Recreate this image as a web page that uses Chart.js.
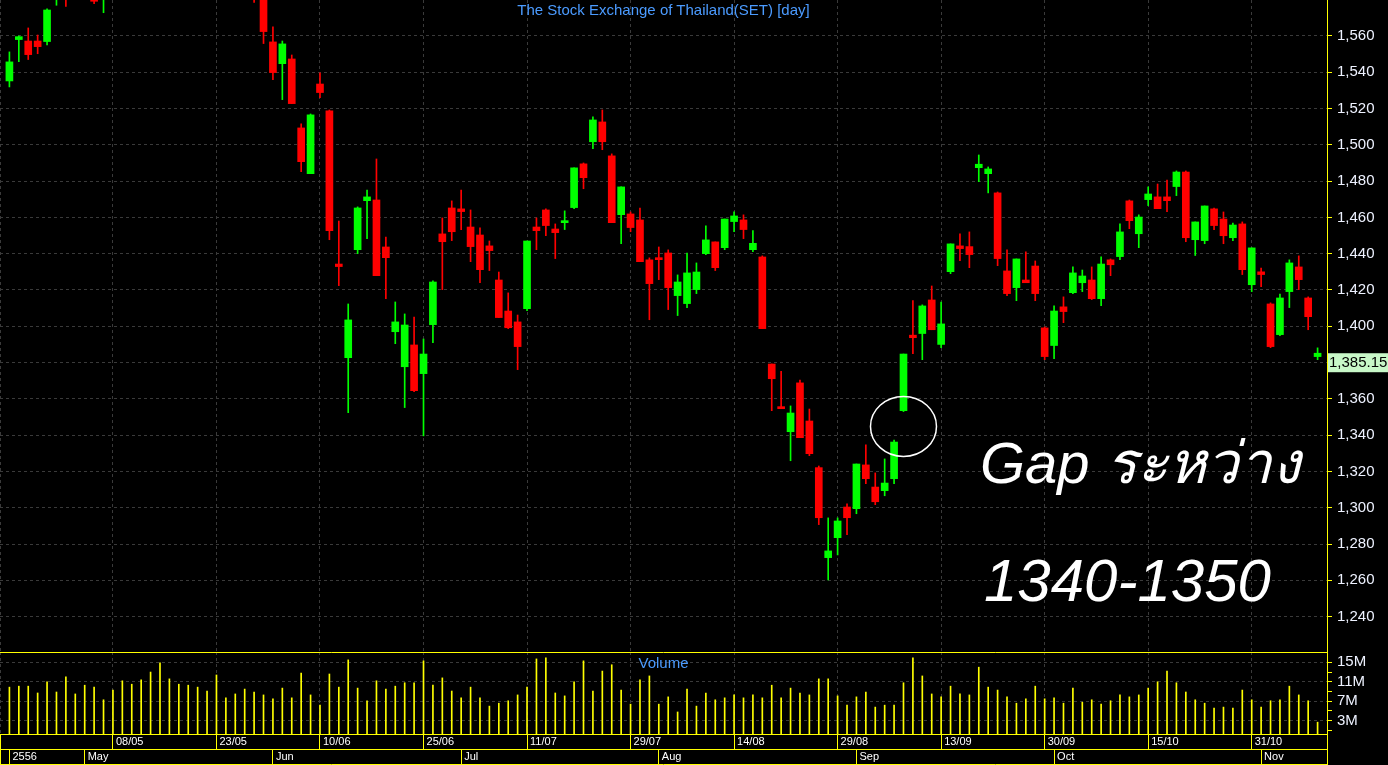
<!DOCTYPE html>
<html>
<head>
<meta charset="utf-8">
<title>SET [day]</title>
<script src="https://cdn.jsdelivr.net/npm/chart.js"></script>
<style>
  html, body { margin: 0; padding: 0; background: #000; overflow: hidden; }
  #wrap { position: relative; width: 1388px; height: 765px; background: #000; }
  #priceChart { position: absolute; left: 0; top: 0; }
  #volChart { position: absolute; left: 0; top: 651px; }
  .lbl { position: absolute; font-family: "Liberation Sans", Arial, sans-serif; white-space: nowrap; }
  #title { left: 0; width: 1327px; top: 2px; text-align: center; font-size: 15px; line-height: 15px; color: #4b9bff; }
  #volTitle { left: 0; width: 1327px; top: 655px; text-align: center; font-size: 15px; line-height: 15px; color: #4b9bff; }
  #gap1 { left: 980px; top: 434px; font-size: 58px; line-height: 58px; font-style: italic; color: #fff; }
  #gap2 { left: 984px; top: 551px; font-size: 60px; line-height: 60px; font-style: italic; color: #fff; }
</style>
</head>
<body>
<div id="wrap">
  <canvas id="priceChart" width="1388" height="652"></canvas>
  <canvas id="volChart" width="1388" height="115"></canvas>
  <div class="lbl" id="title">The Stock Exchange of Thailand(SET) [day]</div>
  <div class="lbl" id="volTitle">Volume</div>
  <div class="lbl" id="gap1">Gap ระหว่าง</div>
  <div class="lbl" id="gap2">1340-1350</div>
</div>
<script>
// SET index, daily candles (bar 0 .. 139)
// bars 5-27 run above the top of the view, only their wicks/bottoms are visible
const opens = [1535.2, 1558.0, 1557.2, 1557.2, 1556.9, 1585, 1605, 1592, 1610, 1596,
    1580, 1598, 1612, 1621, 1616, 1630, 1640, 1627, 1612, 1620,
    1604, 1610, 1598, 1588, 1596, 1590, 1597, 1588, 1556.7, 1544.7,
    1547.3, 1509.3, 1484.1, 1533.5, 1518.7, 1434.3, 1382.7, 1442.2, 1469.2, 1469.6,
    1443.7, 1397.0, 1377.7, 1389.7, 1373.9, 1400.9, 1450.9, 1465.2, 1464.7, 1454.7,
    1450.3, 1444.3, 1425.5, 1408.4, 1402.4, 1409.7, 1454.7, 1464.1, 1453.6, 1457.1,
    1465.4, 1489.5, 1501.7, 1512.6, 1493.9, 1461.5, 1461.9, 1458.6, 1436.6, 1437.8,
    1440.4, 1416.9, 1412.5, 1420.2, 1440.0, 1446.5, 1443.3, 1457.7, 1458.6, 1442.2,
    1438.2, 1379.2, 1355.7, 1341.9, 1368.8, 1347.8, 1322.1, 1272.5, 1283.5, 1300.4,
    1299.5, 1323.6, 1311.4, 1309.4, 1316.0, 1353.5, 1395.1, 1396.0, 1414.5, 1390.0,
    1430.1, 1444.3, 1443.9, 1487.4, 1484.1, 1473.5, 1430.5, 1421.3, 1425.5, 1433.2,
    1399.1, 1389.4, 1410.7, 1418.5, 1424.0, 1425.5, 1415.2, 1436.6, 1438.4, 1469.1,
    1451.0, 1469.8, 1471.3, 1471.3, 1477.0, 1485.0, 1447.7, 1447.2, 1464.7, 1459.1,
    1448.8, 1456.4, 1422.9, 1430.0, 1412.3, 1395.4, 1419.1, 1432.7, 1415.6, 1383.3];
const highs = [1551.2, 1560.0, 1564.4, 1560.5, 1574.9, 1602, 1610, 1612, 1614, 1600,
    1600, 1615, 1625, 1627, 1633, 1643, 1649, 1632, 1626, 1624,
    1616, 1614, 1603, 1600, 1599, 1601, 1600, 1592, 1565.0, 1557.2,
    1549.5, 1511.5, 1517.0, 1539.6, 1519.2, 1458.0, 1412.3, 1465.8, 1475.1, 1492.2,
    1449.2, 1413.4, 1406.8, 1405.1, 1393.0, 1425.0, 1459.7, 1469.1, 1475.1, 1464.1,
    1454.2, 1447.0, 1429.9, 1418.4, 1406.2, 1447.0, 1459.7, 1464.7, 1456.4, 1463.6,
    1487.3, 1490.0, 1515.4, 1519.2, 1495.0, 1476.8, 1463.0, 1465.2, 1437.7, 1443.7,
    1442.1, 1428.3, 1440.4, 1434.9, 1455.3, 1446.5, 1459.1, 1463.0, 1461.4, 1452.7,
    1438.8, 1379.2, 1375.2, 1356.1, 1370.4, 1354.4, 1323.0, 1294.4, 1294.4, 1302.1,
    1324.1, 1334.6, 1319.2, 1326.9, 1337.3, 1384.7, 1414.1, 1411.8, 1422.2, 1413.4,
    1445.4, 1450.9, 1452.0, 1494.4, 1487.8, 1474.0, 1442.1, 1437.1, 1441.0, 1436.0,
    1399.6, 1411.2, 1416.2, 1432.7, 1431.0, 1432.7, 1438.2, 1437.1, 1456.4, 1469.6,
    1461.4, 1476.8, 1478.4, 1480.6, 1485.6, 1485.6, 1457.5, 1466.3, 1465.2, 1463.0,
    1456.9, 1457.5, 1443.2, 1432.1, 1412.9, 1417.8, 1436.6, 1438.8, 1416.2, 1388.1];
const lows = [1531.9, 1545.8, 1547.0, 1550.2, 1555.0, 1576.9, 1576.3, 1585, 1590, 1577.8,
    1572.8, 1594, 1606, 1610, 1613, 1626, 1622, 1606, 1604, 1598,
    1596, 1592, 1583, 1584, 1585, 1586, 1578.5, 1555.8, 1535.9, 1524.9,
    1522.7, 1485.2, 1484.1, 1526.0, 1447.7, 1422.4, 1352.4, 1440.0, 1448.3, 1427.9,
    1415.2, 1390.4, 1355.2, 1364.0, 1339.6, 1391.0, 1420.2, 1447.2, 1453.2, 1435.6,
    1424.0, 1430.7, 1404.8, 1398.7, 1376.1, 1408.6, 1442.2, 1449.9, 1437.3, 1453.3,
    1464.8, 1475.8, 1497.9, 1497.3, 1457.1, 1445.5, 1452.1, 1435.6, 1403.6, 1425.7,
    1409.2, 1405.9, 1410.3, 1418.0, 1439.5, 1430.7, 1442.2, 1452.1, 1448.3, 1441.1,
    1398.7, 1353.5, 1354.6, 1325.9, 1338.6, 1328.7, 1290.7, 1260.2, 1274.0, 1285.2,
    1296.7, 1313.3, 1301.7, 1306.6, 1313.3, 1353.0, 1384.9, 1381.6, 1398.1, 1388.2,
    1429.0, 1436.2, 1432.3, 1479.7, 1473.5, 1433.4, 1416.9, 1414.1, 1424.0, 1414.1,
    1381.6, 1382.2, 1402.0, 1418.0, 1419.1, 1414.7, 1411.4, 1427.9, 1436.7, 1453.8,
    1443.3, 1466.5, 1464.8, 1463.2, 1472.0, 1446.6, 1439.0, 1445.5, 1453.3, 1445.5,
    1447.2, 1428.5, 1419.1, 1421.8, 1388.2, 1394.8, 1410.3, 1420.2, 1398.1, 1381.6];
const closes = [1545.7, 1559.6, 1549.7, 1554.1, 1574.3, 1598, 1590, 1608, 1596, 1579.1,
    1597, 1612, 1621, 1615, 1630, 1638, 1628, 1612, 1620, 1604,
    1611, 1598, 1588, 1596, 1590, 1597, 1588, 1562.4, 1539.8, 1555.6,
    1522.7, 1490.7, 1516.5, 1528.8, 1452.7, 1432.9, 1403.5, 1465.2, 1471.3, 1427.9,
    1437.8, 1402.4, 1400.7, 1364.5, 1384.7, 1424.4, 1446.6, 1452.1, 1463.2, 1443.9,
    1431.2, 1441.7, 1404.8, 1399.2, 1388.8, 1447.0, 1452.7, 1455.5, 1451.6, 1458.0,
    1487.3, 1481.9, 1513.7, 1501.7, 1457.1, 1476.8, 1454.4, 1435.6, 1423.5, 1436.7,
    1421.3, 1424.4, 1429.4, 1429.9, 1447.6, 1432.3, 1459.1, 1460.8, 1453.3, 1445.7,
    1398.7, 1371.1, 1354.6, 1352.2, 1338.6, 1329.8, 1294.5, 1276.2, 1292.7, 1294.5,
    1324.1, 1316.0, 1303.3, 1313.6, 1336.2, 1384.7, 1393.7, 1411.2, 1398.1, 1401.3,
    1445.4, 1442.8, 1439.5, 1489.3, 1486.7, 1437.3, 1418.0, 1437.1, 1424.0, 1418.0,
    1383.3, 1408.4, 1408.1, 1429.4, 1427.7, 1415.2, 1434.3, 1433.9, 1452.0, 1458.2,
    1460.2, 1472.9, 1464.8, 1469.2, 1485.0, 1448.8, 1457.5, 1466.3, 1455.5, 1449.9,
    1455.8, 1431.2, 1443.2, 1428.5, 1388.8, 1415.6, 1434.9, 1425.7, 1405.3, 1385.15];
// volume in millions of shares
const volumes = [9.9, 10.1, 10.1, 8.7, 11.0, 8.9, 12.0, 8.5, 10.3, 9.9,
    7.3, 9.3, 11.2, 10.5, 11.4, 13.0, 14.9, 11.6, 10.5, 10.3,
    9.9, 9.1, 12.4, 7.7, 8.5, 9.5, 8.9, 8.3, 7.5, 9.7,
    7.7, 12.8, 8.3, 6.2, 12.6, 9.9, 15.5, 9.7, 7.1, 11.2,
    9.5, 10.1, 10.8, 10.8, 15.3, 10.3, 11.8, 9.1, 7.7, 9.9,
    7.7, 6.0, 6.6, 7.1, 8.3, 9.9, 15.7, 15.9, 8.7, 8.1,
    11.0, 15.3, 9.1, 13.2, 14.5, 9.3, 6.4, 11.4, 12.2, 6.4,
    7.9, 4.8, 9.5, 6.0, 8.7, 7.3, 7.7, 8.3, 7.7, 8.3,
    7.7, 10.3, 7.7, 9.7, 8.7, 8.3, 11.6, 11.6, 8.1, 6.2,
    7.9, 8.9, 5.8, 6.2, 6.2, 10.8, 15.9, 12.2, 8.5, 7.9,
    10.1, 8.5, 8.3, 14.0, 9.9, 9.3, 7.9, 6.6, 7.5, 10.1,
    7.5, 7.7, 6.6, 9.7, 6.8, 7.3, 6.4, 7.1, 8.3, 7.9,
    8.3, 9.7, 11.0, 13.2, 10.8, 8.9, 7.3, 6.6, 5.6, 5.8,
    5.6, 9.3, 7.3, 5.8, 7.1, 7.3, 10.1, 8.3, 7.1, 2.7];

const priceTicks = [1240, 1260, 1280, 1300, 1320, 1340, 1360, 1380, 1400, 1420,
    1440, 1460, 1480, 1500, 1520, 1540, 1560];
const volTicks = [1, 3, 5, 7, 9, 11, 13, 15];
const volLabelTicks = [3, 7, 11, 15];
const dateTicks = [11, 22, 33, 44, 55, 66, 77, 88, 99, 110, 121, 132];
const dateLabels = ['08/05', '23/05', '10/06', '25/06', '11/07', '29/07', '14/08', '29/08', '13/09', '30/09', '15/10', '31/10'];
const monthTicks = [0, 8, 28, 48, 69, 90, 111, 133];
const monthLabels = ['2556', 'May', 'Jun', 'Jul', 'Aug', 'Sep', 'Oct', 'Nov'];
const lastClose = closes[closes.length - 1];

const UP = '#00ff00';
const DOWN = '#ff0000';
const YEL = '#ffff00';
const GRID = '#3a3a3a';
const TXT = '#eef2ff';
const FONT = '"Liberation Sans", Arial, sans-serif';

const idx = closes.map((c, i) => i);
const candleColors = idx.map(i => closes[i] >= opens[i] ? UP : DOWN);

// shared helpers for scale sizing
function noPad(s) { s.paddingTop = 0; s.paddingBottom = 0; s.paddingLeft = 0; s.paddingRight = 0; }
function rightAxis(s) { s.width = 61; noPad(s); }
function rowAxis(s) { s.height = 15; noPad(s); }
function tickList(list) { return s => { s.ticks = list.map(v => ({value: v})); }; }

// gap circle and last-price box on the price chart
const priceDecor = {
    id: 'priceDecor',
    afterDraw(chart) {
        const c = chart.ctx, xs = chart.scales.x, ys = chart.scales.y;
        c.save();
        c.strokeStyle = '#ffffff';
        c.lineWidth = 1.5;
        c.beginPath();
        c.ellipse(xs.getPixelForValue(95), ys.getPixelForValue(1344.8), 33, 30, 0, 0, Math.PI * 2);
        c.stroke();
        const py = ys.getPixelForValue(lastClose);
        c.fillStyle = '#c8f8c8';
        c.fillRect(chart.chartArea.right + 1, py, 61, 19);
        c.fillStyle = '#000';
        c.font = '15px ' + FONT;
        c.textBaseline = 'middle';
        c.fillText(lastClose.toLocaleString('en-US', {minimumFractionDigits: 2}), chart.chartArea.right + 2, py + 10);
        c.restore();
    }
};

var ctx1 = document.getElementById('priceChart');
var priceChart = new Chart(ctx1, {
    type: 'bar',
    data: {
        datasets: [{
            label: 'body',
            data: idx.map(i => ({x: i, y: [opens[i], closes[i]]})),
            backgroundColor: candleColors,
            barThickness: 7,
            minBarLength: 2,
            grouped: false
        }, {
            label: 'wick',
            data: idx.map(i => ({x: i, y: [lows[i], highs[i]]})),
            backgroundColor: candleColors,
            barThickness: 1,
            grouped: false
        }]
    },
    options: {
        responsive: false,
        animation: false,
        layout: { padding: 0 },
        plugins: { legend: { display: false }, tooltip: { enabled: false } },
        scales: {
            x: {
                type: 'linear', min: -1, max: 140, offset: false,
                afterBuildTicks: tickList([-1].concat(dateTicks)),
                afterFit: noPad,
                ticks: { display: false },
                grid: { color: GRID, drawTicks: false, offset: false },
                border: { display: false, dash: [3, 3] }
            },
            y: {
                position: 'right', min: 1220.5, max: 1579.8,
                afterBuildTicks: tickList(priceTicks),
                afterFit: rightAxis,
                ticks: {
                    color: TXT, padding: 5, font: { family: FONT, size: 15 },
                    callback: v => v === 1380 ? '' : v.toLocaleString('en-US')
                },
                grid: { color: GRID, tickColor: YEL, tickLength: 5 },
                border: { color: YEL, dash: [3, 3] }
            }
        }
    },
    plugins: [priceDecor]
});

// yellow frame of the volume panel and date rows
const volFrame = {
    id: 'volFrame',
    afterDraw(chart) {
        const c = chart.ctx, a = chart.chartArea, b = chart.scales.x2.bottom;
        c.save();
        c.strokeStyle = YEL;
        c.lineWidth = 1;
        c.beginPath();
        c.moveTo(0, a.top + 0.5); c.lineTo(a.right, a.top + 0.5);
        c.moveTo(a.right + 0.5, a.bottom); c.lineTo(a.right + 0.5, b + 1);
        c.moveTo(0, b + 0.5); c.lineTo(a.right, b + 0.5);
        c.stroke();
        c.restore();
    }
};

var ctx2 = document.getElementById('volChart');
var volChart = new Chart(ctx2, {
    type: 'bar',
    data: {
        datasets: [{
            label: 'Volume',
            data: idx.map(i => ({x: i, y: volumes[i]})),
            backgroundColor: YEL,
            barThickness: 1
        }]
    },
    options: {
        responsive: false,
        animation: false,
        layout: { padding: { top: 1, bottom: 2, left: 0, right: 0 } },
        plugins: { legend: { display: false }, tooltip: { enabled: false } },
        scales: {
            x: {
                type: 'linear', position: 'bottom', min: -1, max: 140, offset: false, weight: 0,
                afterBuildTicks: tickList([-1].concat(dateTicks)),
                afterFit: rowAxis,
                ticks: {
                    color: '#ffffff', font: { family: FONT, size: 11 }, align: 'start', labelOffset: 3,
                    padding: -14, autoSkip: false, maxRotation: 0,
                    callback: v => { const k = dateTicks.indexOf(v); return k < 0 ? '' : dateLabels[k]; }
                },
                grid: { color: GRID, tickColor: YEL, tickLength: 15, offset: false },
                border: { color: YEL, dash: [3, 3] }
            },
            x2: {
                type: 'linear', position: 'bottom', min: -1, max: 140, offset: false, weight: 1,
                afterBuildTicks: tickList([-1].concat(monthTicks)),
                afterFit: rowAxis,
                ticks: {
                    color: '#ffffff', font: { family: FONT, size: 11 }, align: 'start', labelOffset: 3,
                    padding: -14, autoSkip: false, maxRotation: 0,
                    callback: v => { const k = monthTicks.indexOf(v); return k < 0 ? '' : monthLabels[k]; }
                },
                grid: { drawOnChartArea: false, tickColor: YEL, tickLength: 15, offset: false },
                border: { color: YEL }
            },
            y: {
                position: 'right', min: 0.27, max: 17.12,
                afterBuildTicks: tickList(volTicks),
                afterFit: rightAxis,
                ticks: {
                    color: TXT, padding: 5, font: { family: FONT, size: 15 }, autoSkip: false,
                    callback: v => volLabelTicks.includes(v) ? v + 'M' : ''
                },
                grid: {
                    color: c => (c.tick && volLabelTicks.includes(c.tick.value)) ? GRID : 'rgba(0,0,0,0)',
                    tickColor: YEL, tickLength: 5
                },
                border: { color: YEL, dash: [3, 3] }
            }
        }
    },
    plugins: [volFrame]
});
</script>
</body>
</html>
